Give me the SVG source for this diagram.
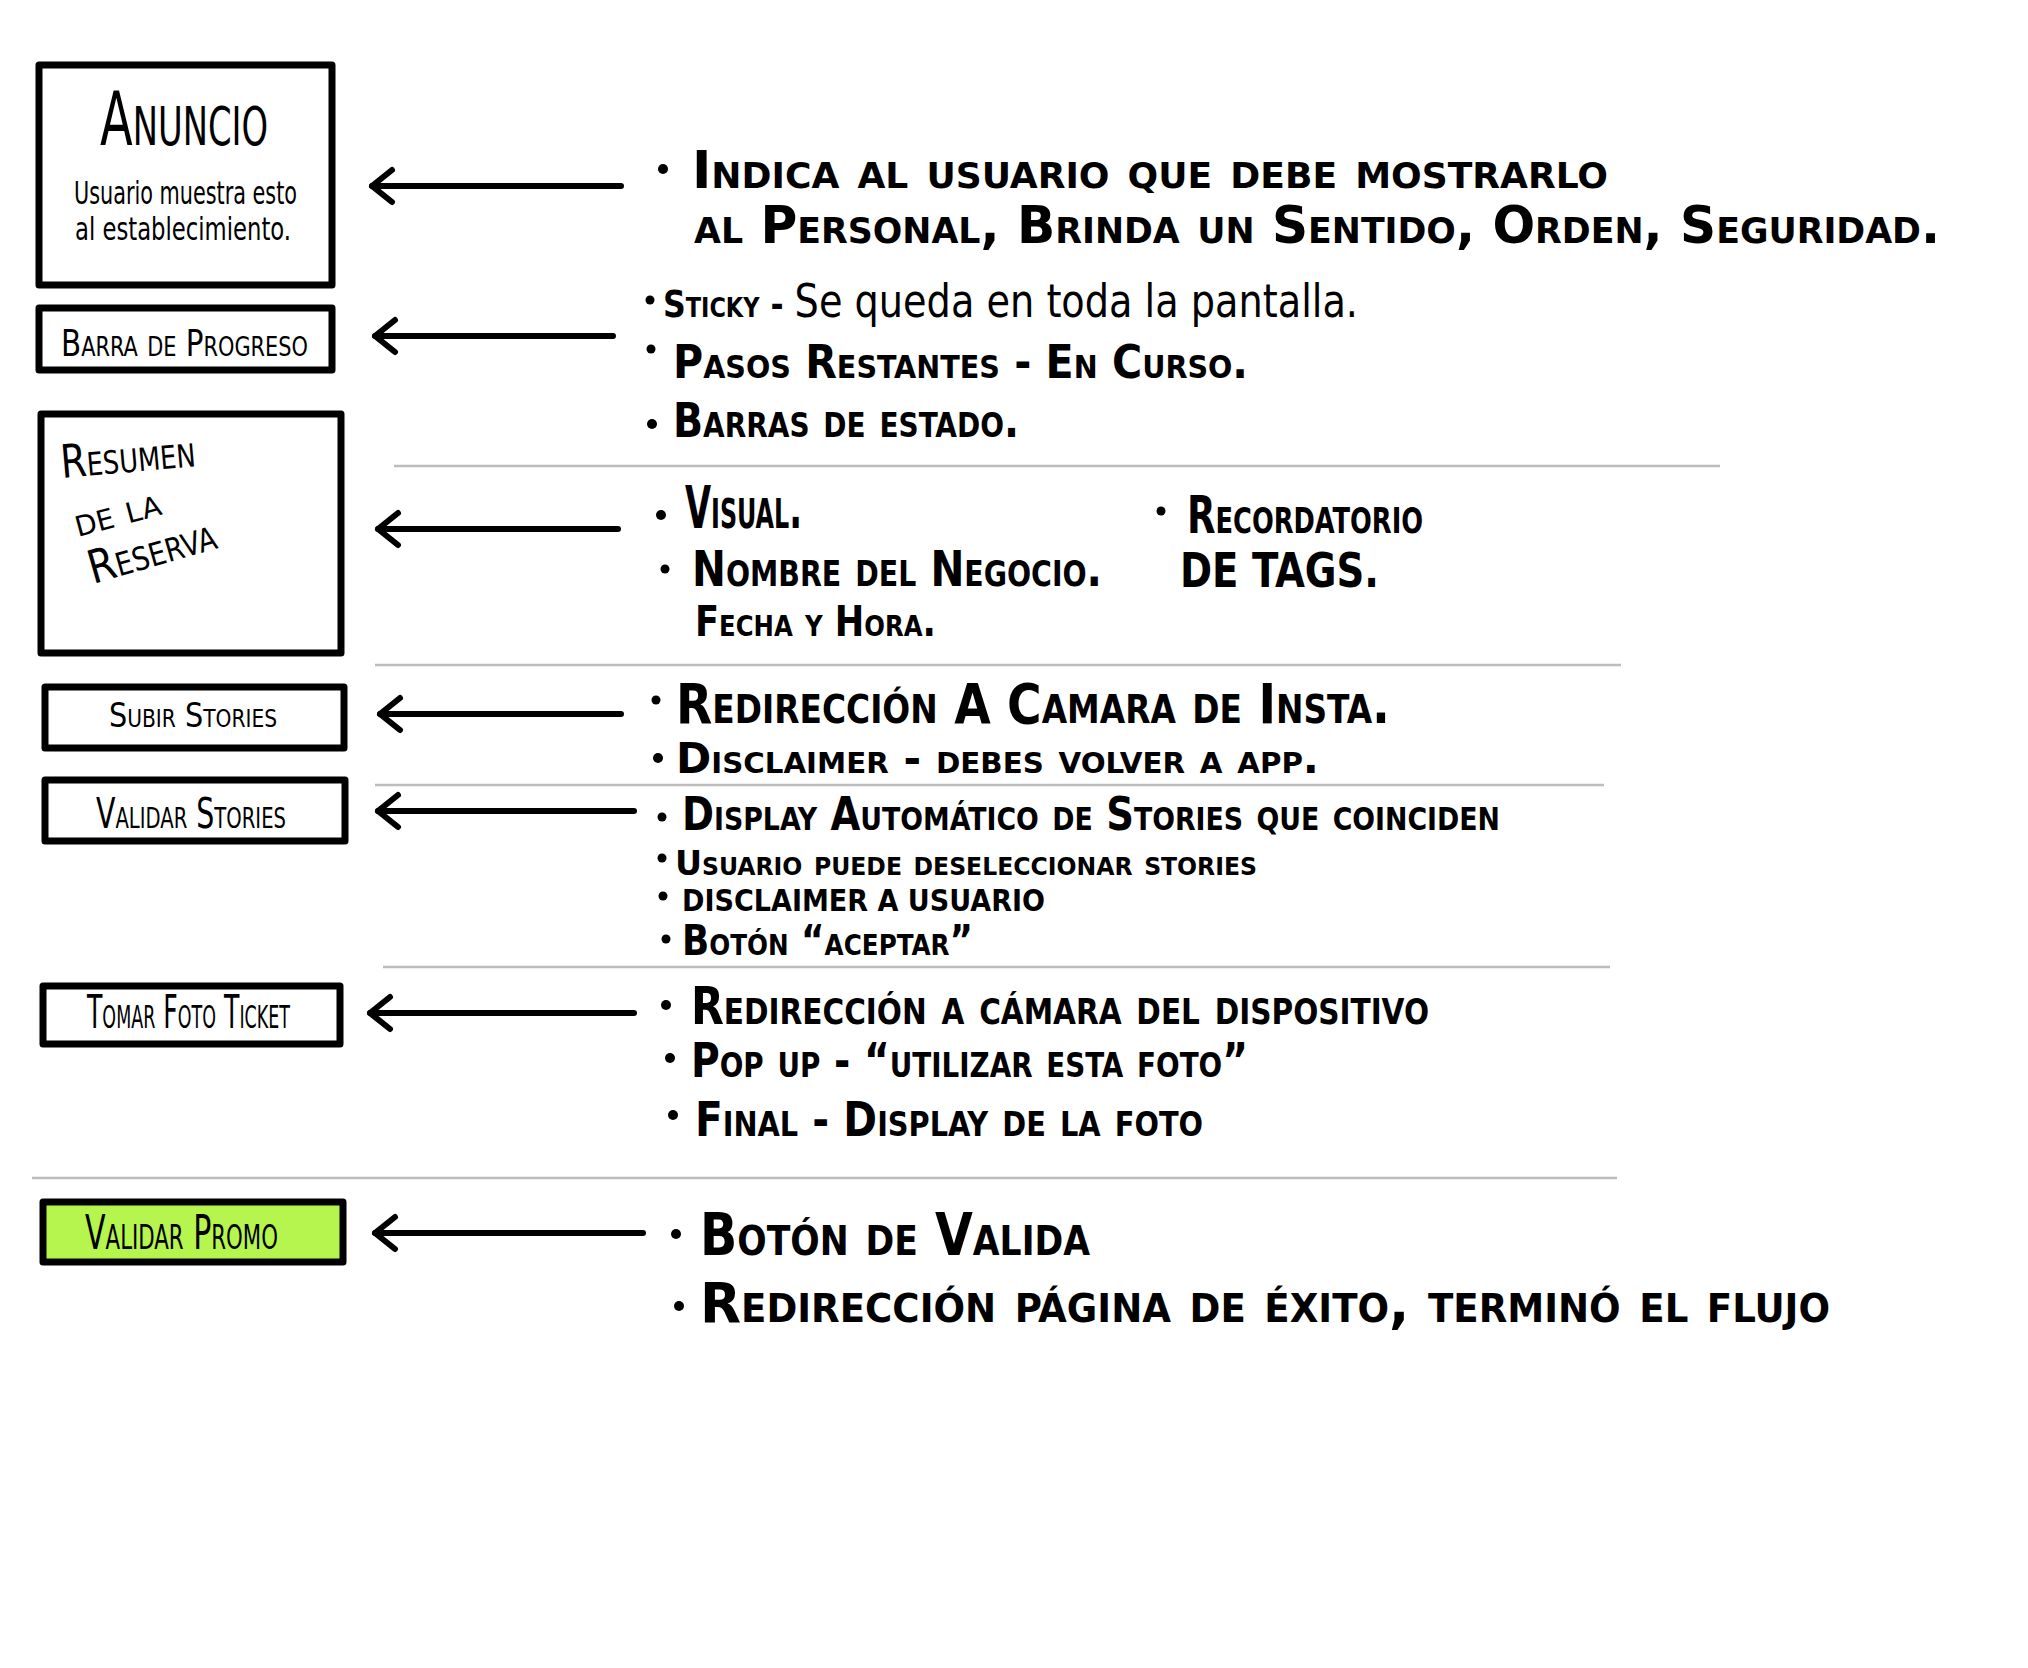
<svg xmlns="http://www.w3.org/2000/svg" width="2028" height="1668" viewBox="0 0 2028 1668">
<style>
  .box{fill:#fff;stroke:#000;stroke-width:7;stroke-linejoin:round}
  .promo{fill:#b5f54e}
  .sep{stroke:#bdbdbd;stroke-width:2.5;fill:none}
  .arr{stroke:#000;stroke-width:6;stroke-linecap:round;fill:none}
  .dot{fill:#000}
  text{font-family:'Liberation Sans Narrow','DejaVu Sans Condensed','Liberation Sans',sans-serif;fill:#000}
  .h{font-weight:bold;font-variant:small-caps}
  .lbl{font-weight:normal;font-variant:small-caps}
  .scr{font-weight:normal}
</style>
<defs>
  <marker id="ah" markerUnits="userSpaceOnUse" orient="auto" refX="0" refY="0" markerWidth="40" markerHeight="40" viewBox="-30 -20 40 40" overflow="visible">
    <path d="M -20,-16 L 0,0 L -20,16" fill="none" stroke="#000" stroke-width="6" stroke-linecap="round" stroke-linejoin="round"/>
  </marker>
</defs>
<rect width="2028" height="1668" fill="#fff"/>

<g id="separators">
  <line class="sep" x1="394" y1="466" x2="1720" y2="466"/>
  <line class="sep" x1="375" y1="665" x2="1621" y2="665"/>
  <line class="sep" x1="375" y1="785" x2="1604" y2="785"/>
  <line class="sep" x1="383" y1="967" x2="1610" y2="967"/>
  <line class="sep" x1="32" y1="1178" x2="1617" y2="1178"/>
</g>

<g id="anuncio">
  <rect class="box" x="39" y="65" width="293" height="220"/>
  <text class="lbl" x="100" y="145" font-size="75" textLength="168" lengthAdjust="spacingAndGlyphs">Anuncio</text>
  <text class="scr" x="74" y="204" font-size="32" textLength="223" lengthAdjust="spacingAndGlyphs">Usuario muestra esto</text>
  <text class="scr" x="75" y="240" font-size="32" textLength="216" lengthAdjust="spacingAndGlyphs">al establecimiento.</text>
</g>

<g id="barra-progreso">
  <rect class="box" x="39" y="308" width="293" height="62"/>
  <text class="lbl" x="61" y="356" font-size="38" textLength="247" lengthAdjust="spacingAndGlyphs">Barra de Progreso</text>
</g>

<g id="resumen-reserva">
  <rect class="box" x="41" y="414" width="300" height="239"/>
  <text class="lbl" x="62" y="478" font-size="46" textLength="135" lengthAdjust="spacingAndGlyphs" transform="rotate(-5 62 478)">Resumen</text>
  <text class="lbl" x="78" y="537" font-size="40" textLength="88" lengthAdjust="spacingAndGlyphs" transform="rotate(-15 78 537)">de la</text>
  <text class="lbl" x="93" y="584" font-size="46" textLength="131" lengthAdjust="spacingAndGlyphs" transform="rotate(-16 93 584)">Reserva</text>
</g>

<g id="subir-stories">
  <rect class="box" x="45" y="687" width="299" height="61"/>
  <text class="lbl" x="109" y="727" font-size="34" textLength="168" lengthAdjust="spacingAndGlyphs">Subir Stories</text>
</g>

<g id="validar-stories">
  <rect class="box" x="45" y="780" width="300" height="61"/>
  <text class="lbl" x="96" y="828" font-size="42" textLength="190" lengthAdjust="spacingAndGlyphs">Validar Stories</text>
</g>

<g id="tomar-foto-ticket">
  <rect class="box" x="43" y="986" width="297" height="58"/>
  <text class="lbl" x="87" y="1028" font-size="46" textLength="203" lengthAdjust="spacingAndGlyphs">Tomar Foto Ticket</text>
</g>

<g id="validar-promo">
  <rect class="box promo" x="43" y="1202" width="300" height="60"/>
  <text class="lbl" x="85" y="1249" font-size="48" textLength="193" lengthAdjust="spacingAndGlyphs">Validar Promo</text>
</g>

<g id="connectors">
  <line class="arr" x1="621" y1="186" x2="372" y2="186" marker-end="url(#ah)"/>
  <line class="arr" x1="613" y1="336" x2="375" y2="336" marker-end="url(#ah)"/>
  <line class="arr" x1="618" y1="529" x2="378" y2="529" marker-end="url(#ah)"/>
  <line class="arr" x1="621" y1="714" x2="380" y2="714" marker-end="url(#ah)"/>
  <line class="arr" x1="634" y1="811" x2="378" y2="811" marker-end="url(#ah)"/>
  <line class="arr" x1="634" y1="1013" x2="370" y2="1013" marker-end="url(#ah)"/>
  <line class="arr" x1="643" y1="1233" x2="375" y2="1233" marker-end="url(#ah)"/>
</g>

<g id="notes-anuncio">
  <circle class="dot" cx="663" cy="169" r="5"/>
  <text class="h" x="692" y="188" font-size="52" textLength="916" lengthAdjust="spacingAndGlyphs">Indica al usuario  que debe mostrarlo</text>
  <text class="h" x="694" y="243" font-size="52" textLength="1246" lengthAdjust="spacingAndGlyphs">al Personal, Brinda un Sentido, Orden, Seguridad.</text>
</g>

<g id="notes-barra">
  <circle class="dot" cx="650" cy="300" r="4.5"/>
  <text x="663" y="317" textLength="695" lengthAdjust="spacingAndGlyphs"><tspan class="h" font-size="38">Sticky - </tspan><tspan class="scr" font-size="46">Se queda en toda la pantalla.</tspan></text>
  <circle class="dot" cx="651" cy="349" r="4.5"/>
  <text class="h" x="673" y="378" font-size="46" textLength="575" lengthAdjust="spacingAndGlyphs">Pasos Restantes - En Curso.</text>
  <circle class="dot" cx="652" cy="424" r="5"/>
  <text class="h" x="673" y="437" font-size="48" textLength="346" lengthAdjust="spacingAndGlyphs">Barras de estado.</text>
</g>

<g id="notes-resumen">
  <circle class="dot" cx="661" cy="515" r="5"/>
  <text class="h" x="685" y="528" font-size="58" textLength="117" lengthAdjust="spacingAndGlyphs">Visual.</text>
  <circle class="dot" cx="665" cy="569" r="4.5"/>
  <text class="h" x="692" y="586" font-size="50" textLength="410" lengthAdjust="spacingAndGlyphs">Nombre del Negocio.</text>
  <text class="h" x="695" y="636" font-size="42" textLength="241" lengthAdjust="spacingAndGlyphs">Fecha y Hora.</text>
  <circle class="dot" cx="1161" cy="511" r="4.5"/>
  <text class="h" x="1187" y="533" font-size="52" textLength="236" lengthAdjust="spacingAndGlyphs">Recordatorio</text>
  <text class="h" x="1180" y="587" font-size="48" textLength="199" lengthAdjust="spacingAndGlyphs">DE TAGS.</text>
</g>

<g id="notes-subir">
  <circle class="dot" cx="656" cy="700" r="4.5"/>
  <text class="h" x="676" y="723" font-size="56" textLength="714" lengthAdjust="spacingAndGlyphs">Redirección A Camara de Insta.</text>
  <circle class="dot" cx="658" cy="758" r="5"/>
  <text class="h" x="676" y="773" font-size="42" textLength="643" lengthAdjust="spacingAndGlyphs">Disclaimer - debes volver a app.</text>
</g>

<g id="notes-validar-stories">
  <circle class="dot" cx="662" cy="817" r="4.5"/>
  <text class="h" x="682" y="830" font-size="46" textLength="818" lengthAdjust="spacingAndGlyphs">Display Automático de Stories que coinciden</text>
  <circle class="dot" cx="662" cy="858" r="4.5"/>
  <text class="h" x="675" y="875" font-size="34" textLength="582" lengthAdjust="spacingAndGlyphs">Usuario puede deseleccionar stories</text>
  <circle class="dot" cx="663" cy="896" r="4.5"/>
  <text class="h" x="682" y="911" font-size="30" textLength="363" lengthAdjust="spacingAndGlyphs">DISCLAIMER A USUARIO</text>
  <circle class="dot" cx="666" cy="939" r="4.5"/>
  <text class="h" x="682" y="955" font-size="42" textLength="291" lengthAdjust="spacingAndGlyphs">Botón “aceptar”</text>
</g>

<g id="notes-tomar-foto">
  <circle class="dot" cx="666" cy="1005" r="5"/>
  <text class="h" x="691" y="1024" font-size="52" textLength="738" lengthAdjust="spacingAndGlyphs">Redirección a cámara del dispositivo</text>
  <circle class="dot" cx="670" cy="1058" r="5"/>
  <text class="h" x="691" y="1077" font-size="48" textLength="557" lengthAdjust="spacingAndGlyphs">Pop up - “utilizar esta foto”</text>
  <circle class="dot" cx="673" cy="1115" r="5"/>
  <text class="h" x="695" y="1136" font-size="48" textLength="508" lengthAdjust="spacingAndGlyphs">Final - Display de la foto</text>
</g>

<g id="notes-validar-promo">
  <circle class="dot" cx="676" cy="1234" r="5"/>
  <text class="h" x="700" y="1255" font-size="58" textLength="390" lengthAdjust="spacingAndGlyphs">Botón de Valida</text>
  <circle class="dot" cx="679" cy="1306" r="5"/>
  <text class="h" x="700" y="1322" font-size="56" textLength="1130" lengthAdjust="spacingAndGlyphs">Redirección página de éxito, terminó el flujo</text>
</g>
</svg>
